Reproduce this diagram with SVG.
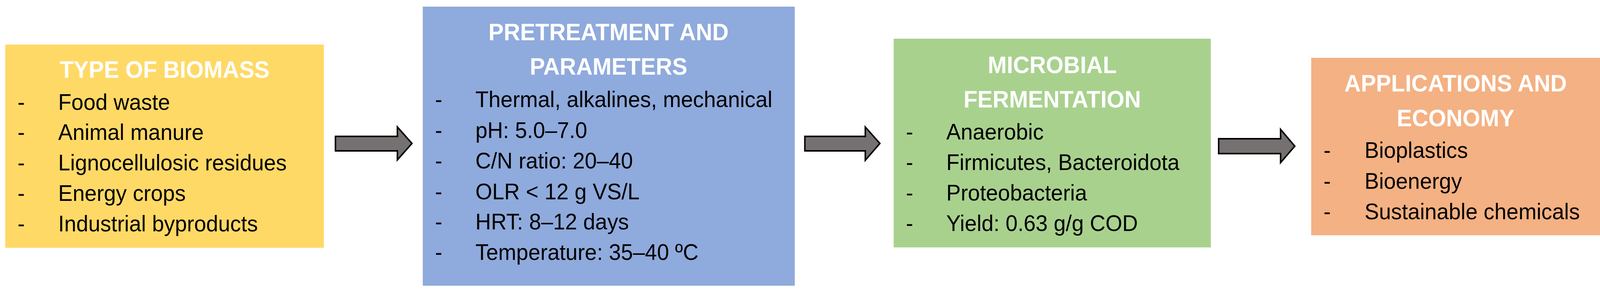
<svg xmlns="http://www.w3.org/2000/svg" width="4288" height="742" viewBox="0 0 4288 742" preserveAspectRatio="none" style="width:100vw;height:100vh">
<style>
.title{font-family:"Liberation Sans",Arial,sans-serif;font-weight:bold;font-size:61px;fill:#ffffff;text-anchor:middle}
.body{font-family:"Liberation Sans",Arial,sans-serif;font-size:58px;fill:#000000}
.arrow{fill:#767171;stroke:#000000;stroke-width:4;stroke-linejoin:miter}
</style>
<rect x="0" y="0" width="4288" height="742" fill="#ffffff"/>
<g id="node-biomass">
<rect x="14" y="114" width="854" height="520" fill="#FFD966"/>
<text class="title" x="441" y="199">TYPE OF BIOMASS</text>
<g class="body">
<text x="47" y="281">-</text><text x="156" y="281">Food waste</text>
<text x="47" y="358">-</text><text x="156" y="358">Animal manure</text>
<text x="47" y="436">-</text><text x="156" y="436">Lignocellulosic residues</text>
<text x="47" y="514">-</text><text x="156" y="514">Energy crops</text>
<text x="47" y="592">-</text><text x="156" y="592">Industrial byproducts</text>
</g>
</g>
<g id="node-pretreatment">
<rect x="1133" y="17" width="997" height="714" fill="#8FAADC"/>
<text class="title" x="1631" y="103">PRETREATMENT AND</text>
<text class="title" x="1631" y="191">PARAMETERS</text>
<g class="body">
<text x="1166" y="274">-</text><text x="1274" y="274">Thermal, alkalines, mechanical</text>
<text x="1166" y="353">-</text><text x="1274" y="353">pH: 5.0–7.0</text>
<text x="1166" y="431">-</text><text x="1274" y="431">C/N ratio: 20–40</text>
<text x="1166" y="510">-</text><text x="1274" y="510">OLR &lt; 12 g VS/L</text>
<text x="1166" y="587">-</text><text x="1274" y="587">HRT: 8–12 days</text>
<text x="1166" y="665">-</text><text x="1274" y="665">Temperature: 35–40 ºC</text>
</g>
</g>
<g id="node-fermentation">
<rect x="2395" y="99" width="850" height="534" fill="#A9D18E"/>
<text class="title" x="2820" y="187">MICROBIAL</text>
<text class="title" x="2820" y="275">FERMENTATION</text>
<g class="body">
<text x="2428" y="357">-</text><text x="2536" y="357">Anaerobic</text>
<text x="2428" y="435">-</text><text x="2536" y="435">Firmicutes, Bacteroidota</text>
<text x="2428" y="513">-</text><text x="2536" y="513">Proteobacteria</text>
<text x="2428" y="591">-</text><text x="2536" y="591">Yield: 0.63 g/g COD</text>
</g>
</g>
<g id="node-applications">
<rect x="3514" y="148" width="774" height="454" fill="#F4B183"/>
<text class="title" x="3901" y="234">APPLICATIONS AND</text>
<text class="title" x="3901" y="323">ECONOMY</text>
<g class="body">
<text x="3547" y="404">-</text><text x="3657" y="404">Bioplastics</text>
<text x="3547" y="483">-</text><text x="3657" y="483">Bioenergy</text>
<text x="3547" y="561">-</text><text x="3657" y="561">Sustainable chemicals</text>
</g>
</g>
<g id="connectors">
<path class="arrow" d="M899,349 L1065,349 L1065,325 L1104,367 L1065,409 L1065,386 L899,386 Z"/>
<path class="arrow" d="M2157,349 L2319,349 L2319,325 L2358,367 L2319,410 L2319,386 L2157,386 Z"/>
<path class="arrow" d="M3266,355 L3432,355 L3432,331 L3470,374 L3432,416 L3432,393 L3266,393 Z"/>
</g>
</svg>
